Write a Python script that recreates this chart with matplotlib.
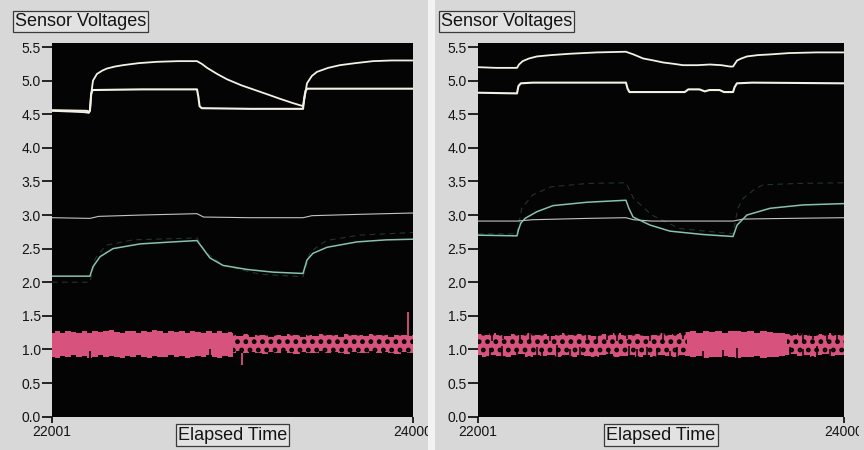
import matplotlib
matplotlib.use("Agg")
import matplotlib.pyplot as plt
from matplotlib.patches import Rectangle
from matplotlib.transforms import Bbox, TransformedBbox

plt.rcParams['font.family'] = ['Liberation Sans', 'DejaVu Sans']
plt.rcParams['hatch.linewidth'] = 2.2

# ---------------------------------------------------------------- axes setup
T_START, T_END = 22001, 24000
y_ticks = [0.0, 0.5, 1.0, 1.5, 2.0, 2.5, 3.0, 3.5, 4.0, 4.5, 5.0, 5.5]
y_tick_labels = ["0.0", "0.5", "1.0", "1.5", "2.0", "2.5", "3.0", "3.5",
                 "4.0", "4.5", "5.0", "5.5"]
x_ticks = [22001, 24000]
x_tick_labels = ["22001", "24000"]
title_text = "Sensor Voltages"
xlabel_text = "Elapsed Time"

# ---------------------------------------------------------------- run 1 (left)
r1_upper_t = [22001, 22100, 22180, 22205, 22211, 22218, 22228, 22250, 22280,
              22305, 22350, 22394, 22480, 22582, 22700, 22804, 22830, 22860,
              22915, 22970, 23050, 23136, 23200, 23263, 23330, 23391, 23400,
              23413, 23440, 23468, 23530, 23595, 23680, 23778, 23880, 24000]
r1_upper_v = [4.55, 4.54, 4.53, 4.52, 4.55, 4.80, 5.00, 5.10, 5.15,
              5.18, 5.21, 5.23, 5.26, 5.28, 5.29, 5.29, 5.25, 5.19,
              5.10, 5.02, 4.93, 4.85, 4.79, 4.73, 4.67, 4.62, 4.75,
              4.96, 5.07, 5.13, 5.19, 5.23, 5.26, 5.29, 5.30, 5.30]

r1_lower_t = [22001, 22195, 22205, 22211, 22218, 22225, 22500, 22804, 22812,
              22818, 22830, 23100, 23391, 23398, 23405, 23415, 23700, 24000]
r1_lower_v = [4.56, 4.55, 4.53, 4.56, 4.80, 4.86, 4.87, 4.87, 4.75,
              4.62, 4.59, 4.58, 4.58, 4.75, 4.85, 4.88, 4.88, 4.88]

r1_flat_t = [22001, 22211, 22260, 22500, 22804, 22840, 23100, 23391, 23440,
             23700, 24000]
r1_flat_v = [2.96, 2.95, 2.98, 3.00, 3.02, 2.97, 2.96, 2.96, 2.99, 3.01, 3.03]

r1_teal_t = [22001, 22211, 22228, 22267, 22339, 22488, 22671, 22804, 22837,
             22876, 22948, 23081, 23225, 23391, 23413, 23446, 23524, 23690,
             23850, 24000]
r1_teal_v = [2.09, 2.09, 2.23, 2.38, 2.50, 2.57, 2.60, 2.62, 2.50,
             2.36, 2.25, 2.19, 2.15, 2.13, 2.33, 2.43, 2.52, 2.60,
             2.63, 2.64]

r1_faint_t = [22001, 22211, 22240, 22300, 22450, 22804, 22850, 22950, 23150,
              23391, 23430, 23520, 23700, 24000]
r1_faint_v = [2.00, 2.00, 2.35, 2.55, 2.63, 2.66, 2.45, 2.25, 2.12,
              2.08, 2.45, 2.62, 2.70, 2.74]

# pink sensor: dense segment
r1_pink_t = [22001, 22030, 22060, 22090, 22120, 22150, 22180, 22210, 22240,
             22270, 22300, 22330, 22360, 22390, 22420, 22450, 22480, 22510,
             22540, 22570, 22600, 22630, 22660, 22690, 22720, 22750, 22780,
             22810, 22840, 22870, 22900, 22930, 22960, 22990, 23005]
r1_pink_hi = [1.24, 1.27, 1.25, 1.28, 1.26, 1.24, 1.27, 1.25, 1.28,
              1.26, 1.27, 1.29, 1.26, 1.25, 1.28, 1.27, 1.25, 1.28,
              1.26, 1.29, 1.27, 1.25, 1.28, 1.26, 1.27, 1.25, 1.28,
              1.26, 1.24, 1.27, 1.25, 1.27, 1.24, 1.26, 1.25]
r1_pink_lo = [0.89, 0.87, 0.90, 0.88, 0.91, 0.88, 0.90, 0.87, 0.89,
              0.91, 0.88, 0.90, 0.89, 0.87, 0.90, 0.88, 0.91, 0.89,
              0.87, 0.90, 0.88, 0.89, 0.91, 0.88, 0.90, 0.87, 0.89,
              0.90, 0.88, 0.91, 0.89, 0.87, 0.90, 0.88, 0.89]
# pink sensor: sparse (dropout) segment
r1_pinks_t = [23005, 23040, 23075, 23110, 23145, 23180, 23215, 23250, 23285,
              23320, 23355, 23390, 23425, 23460, 23495, 23530, 23565, 23600,
              23635, 23670, 23705, 23740, 23775, 23810, 23845, 23880, 23915,
              23950, 23985, 24000]
r1_pinks_hi = [1.22, 1.20, 1.23, 1.19, 1.22, 1.21, 1.18, 1.22, 1.20,
               1.23, 1.21, 1.19, 1.22, 1.20, 1.23, 1.21, 1.22, 1.19,
               1.23, 1.21, 1.22, 1.20, 1.23, 1.21, 1.22, 1.19, 1.22,
               1.21, 1.20, 1.21]
r1_pinks_lo = [0.95, 0.97, 0.94, 0.96, 0.95, 0.93, 0.96, 0.94, 0.97,
               0.95, 0.93, 0.96, 0.94, 0.95, 0.97, 0.94, 0.96, 0.95,
               0.93, 0.96, 0.94, 0.95, 0.97, 0.94, 0.96, 0.95, 0.93,
               0.96, 0.95, 0.94]
r1_spike_t = [23051, 23972]
r1_spike_from = [0.95, 1.20]
r1_spike_to = [0.77, 1.55]
r1_gap_t = [22211, 22876]
r1_gap_from = [0.86, 0.86]
r1_gap_to = [0.98, 1.00]

# ---------------------------------------------------------------- run 2 (right)
r2_upper_t = [22001, 22100, 22214, 22225, 22245, 22280, 22323, 22400, 22503,
              22650, 22809, 22850, 22903, 22960, 23012, 23070, 23121, 23200,
              23268, 23330, 23377, 23394, 23416, 23440, 23470, 23530, 23596,
              23700, 23850, 24000]
r2_upper_v = [5.20, 5.19, 5.19, 5.24, 5.29, 5.33, 5.36, 5.38, 5.40,
              5.42, 5.43, 5.39, 5.33, 5.30, 5.27, 5.25, 5.23, 5.23,
              5.24, 5.23, 5.21, 5.21, 5.30, 5.33, 5.36, 5.38, 5.39,
              5.41, 5.42, 5.42]

r2_lower_t = [22001, 22214, 22222, 22235, 22300, 22809, 22818, 22828, 23130,
              23150, 23210, 23240, 23265, 23320, 23345, 23394, 23402, 23415,
              23500, 24000]
r2_lower_v = [4.82, 4.81, 4.92, 4.96, 4.97, 4.97, 4.88, 4.83, 4.83,
              4.87, 4.87, 4.84, 4.86, 4.86, 4.83, 4.83, 4.90, 4.96,
              4.97, 4.96]

r2_flat_t = [22001, 22214, 22300, 22600, 22809, 22850, 22950, 23394, 23450,
             23700, 24000]
r2_flat_v = [2.91, 2.91, 2.93, 2.95, 2.96, 2.93, 2.91, 2.91, 2.94, 2.95, 2.96]

r2_teal_t = [22001, 22214, 22222, 22235, 22258, 22323, 22411, 22596, 22809,
             22825, 22848, 22941, 23050, 23230, 23394, 23416, 23470, 23596,
             23776, 24000]
r2_teal_v = [2.70, 2.69, 2.78, 2.88, 2.95, 3.05, 3.14, 3.19, 3.22,
             3.10, 2.97, 2.85, 2.76, 2.71, 2.68, 2.85, 3.00, 3.10,
             3.15, 3.17]

r2_faint_t = [22001, 22214, 22240, 22300, 22400, 22600, 22809, 22850, 22950,
              23100, 23394, 23420, 23450, 23520, 23560, 23750, 24000]
r2_faint_v = [2.72, 2.72, 3.10, 3.30, 3.42, 3.47, 3.48, 3.25, 3.00,
              2.80, 2.72, 3.10, 3.25, 3.40, 3.45, 3.47, 3.48]

r2_pinks_t = [22001, 22040, 22080, 22120, 22160, 22200, 22240, 22280, 22320,
              22360, 22400, 22440, 22480, 22520, 22560, 22600, 22640, 22680,
              22720, 22760, 22800, 22840, 22880, 22920, 22960, 23000, 23040,
              23080, 23120, 23140]
r2_pinks_hi = [1.23, 1.21, 1.24, 1.22, 1.20, 1.23, 1.21, 1.24, 1.22,
               1.23, 1.20, 1.22, 1.24, 1.21, 1.23, 1.22, 1.20, 1.23,
               1.21, 1.24, 1.22, 1.21, 1.23, 1.20, 1.22, 1.24, 1.21,
               1.23, 1.25, 1.26]
r2_pinks_lo = [0.91, 0.89, 0.92, 0.90, 0.88, 0.91, 0.93, 0.89, 0.91,
               0.90, 0.92, 0.88, 0.91, 0.89, 0.92, 0.90, 0.88, 0.91,
               0.93, 0.89, 0.90, 0.92, 0.89, 0.91, 0.88, 0.92, 0.90,
               0.89, 0.91, 0.90]
r2_pink_t = [23140, 23175, 23210, 23245, 23280, 23315, 23350, 23385, 23420,
             23455, 23490, 23525, 23560, 23595, 23630, 23665, 23690]
r2_pink_hi = [1.26, 1.27, 1.25, 1.28, 1.26, 1.27, 1.25, 1.28, 1.27,
              1.26, 1.28, 1.25, 1.27, 1.26, 1.24, 1.25, 1.23]
r2_pink_lo = [0.90, 0.88, 0.90, 0.87, 0.89, 0.88, 0.90, 0.88, 0.87,
              0.89, 0.88, 0.90, 0.87, 0.89, 0.88, 0.90, 0.91]
r2_pinks2_t = [23690, 23725, 23760, 23795, 23830, 23865, 23900, 23935, 23970,
               24000]
r2_pinks2_hi = [1.23, 1.21, 1.24, 1.22, 1.20, 1.23, 1.21, 1.24, 1.22, 1.23]
r2_pinks2_lo = [0.91, 0.93, 0.90, 0.92, 0.89, 0.91, 0.93, 0.90, 0.92, 0.91]

# dropouts cutting up from below / down from above
r2_gap_lo_t = [22067, 22130, 22212, 22321, 22349, 22431, 22503, 22558, 22718,
               22828, 22868, 22922, 22977, 23050, 23086, 23232, 23341, 23414,
               23705, 23778, 23851, 23924]
r2_gap_lo_to = [1.02, 1.05, 0.99, 1.04, 1.00, 1.06, 1.01, 1.03, 0.99,
                1.05, 1.00, 1.04, 1.02, 0.98, 1.03, 0.97, 0.99, 1.02,
                1.03, 1.00, 1.05, 1.01]
r2_gap_hi_t = [22076, 22139, 22230, 22285, 22394, 22594, 22649, 22704, 22759,
               22813, 22940, 23013, 23122, 23778, 23832, 23906, 23960]
r2_gap_hi_to = [1.13, 1.15, 1.12, 1.14, 1.13, 1.15, 1.12, 1.14, 1.13,
                1.15, 1.12, 1.14, 1.16, 1.13, 1.15, 1.12, 1.14]

# ---------------------------------------------------------------- styling
BG = '#d8d8d8'
WHITE = '#f3f1e4'
FLAT = '#c2c5be'
TEAL = '#86c2ae'
FAINT = '#22342f'
PINK = '#d8527e'
INK = '#141414'
PLOT_BG = '#040404'

W, H = 864, 450
fig = plt.figure(figsize=(W / 100, H / 100), dpi=100, facecolor='#f3f3f3')
fig.add_artist(Rectangle((0, 0), 428 / W, 1, transform=fig.transFigure,
                         facecolor=BG, edgecolor='none', zorder=-10))
fig.add_artist(Rectangle((435 / W, 0), 1 - 435 / W, 1, transform=fig.transFigure,
                         facecolor=BG, edgecolor='none', zorder=-10))

bottom = 1 - 416.6 / H
height = (416.6 - 43) / H
ax1 = fig.add_axes([52 / W, bottom, 361 / W, height])
ax2 = fig.add_axes([478 / W, bottom, 366 / W, height])


def style_axes(ax, clip_right_px):
    ax.set_facecolor(PLOT_BG)
    ax.set_xlim(T_START, T_END)
    ax.set_ylim(0, 5.56)
    for s in ax.spines.values():
        s.set_visible(False)
    ax.set_yticks(y_ticks, y_tick_labels)
    ax.set_xticks(x_ticks, x_tick_labels)
    ax.tick_params(axis='y', length=7, width=1.3, pad=1, labelsize=10,
                   color=INK, labelcolor=INK)
    ax.tick_params(axis='x', length=4, width=1.3, pad=2, labelsize=10,
                   color=INK, labelcolor=INK)
    clip = TransformedBbox(Bbox([[0, 0], [clip_right_px / W, 1]]), fig.transFigure)
    for lbl in ax.get_xticklabels():
        lbl.set_clip_on(True)
        lbl.set_clip_box(clip)


def draw_band(ax, t, lo, hi, sparse):
    if sparse:
        ax.fill_between(t, lo, hi, step='mid', facecolor=PINK, edgecolor=PLOT_BG,
                        hatch='..', linewidth=0, zorder=2)
    else:
        ax.fill_between(t, lo, hi, step='mid', facecolor=PINK, linewidth=0, zorder=2)


style_axes(ax1, 428)
style_axes(ax2, 859)

# run 1
ax1.plot(r1_faint_t, r1_faint_v, color=FAINT, lw=0.8, dashes=(5, 4), zorder=3)
ax1.plot(r1_flat_t, r1_flat_v, color=FLAT, lw=0.8, zorder=3)
ax1.plot(r1_teal_t, r1_teal_v, color=TEAL, lw=1.1, zorder=4)
ax1.plot(r1_upper_t, r1_upper_v, color=WHITE, lw=1.3, zorder=4)
ax1.plot(r1_lower_t, r1_lower_v, color=WHITE, lw=1.5, zorder=4)
draw_band(ax1, r1_pink_t, r1_pink_lo, r1_pink_hi, False)
draw_band(ax1, r1_pinks_t, r1_pinks_lo, r1_pinks_hi, True)
ax1.vlines(r1_gap_t, r1_gap_from, r1_gap_to, color=PLOT_BG, lw=1.2, zorder=3)
ax1.vlines(r1_spike_t, r1_spike_from, r1_spike_to, color=PINK, lw=1.3, zorder=3)

# run 2
ax2.plot(r2_faint_t, r2_faint_v, color=FAINT, lw=0.8, dashes=(5, 4), zorder=3)
ax2.plot(r2_flat_t, r2_flat_v, color=FLAT, lw=0.8, zorder=3)
ax2.plot(r2_teal_t, r2_teal_v, color=TEAL, lw=1.1, zorder=4)
ax2.plot(r2_upper_t, r2_upper_v, color=WHITE, lw=1.3, zorder=4)
ax2.plot(r2_lower_t, r2_lower_v, color=WHITE, lw=1.5, zorder=4)
draw_band(ax2, r2_pinks_t, r2_pinks_lo, r2_pinks_hi, True)
draw_band(ax2, r2_pink_t, r2_pink_lo, r2_pink_hi, False)
draw_band(ax2, r2_pinks2_t, r2_pinks2_lo, r2_pinks2_hi, True)
ax2.vlines(r2_gap_lo_t, 0.86, r2_gap_lo_to, color=PLOT_BG, lw=1.1, zorder=3)
ax2.vlines(r2_gap_hi_t, 1.28, r2_gap_hi_to, color=PLOT_BG, lw=1.1, zorder=3)

# captions
box = dict(boxstyle='square,pad=0.12', facecolor='#e2e2e2', edgecolor='#3a3a3a',
           linewidth=0.9)
for x_left in (15, 441):
    fig.text(x_left / W, 1 - 21.5 / H, title_text, ha='left', va='center',
             fontsize=13, color=INK, bbox=box)
for x_mid in (232.5, 661):
    fig.text(x_mid / W, 1 - 435 / H, xlabel_text, ha='center', va='center',
             fontsize=13, color=INK, bbox=box)

fig.savefig('out.png', dpi=100, facecolor=fig.get_facecolor())
